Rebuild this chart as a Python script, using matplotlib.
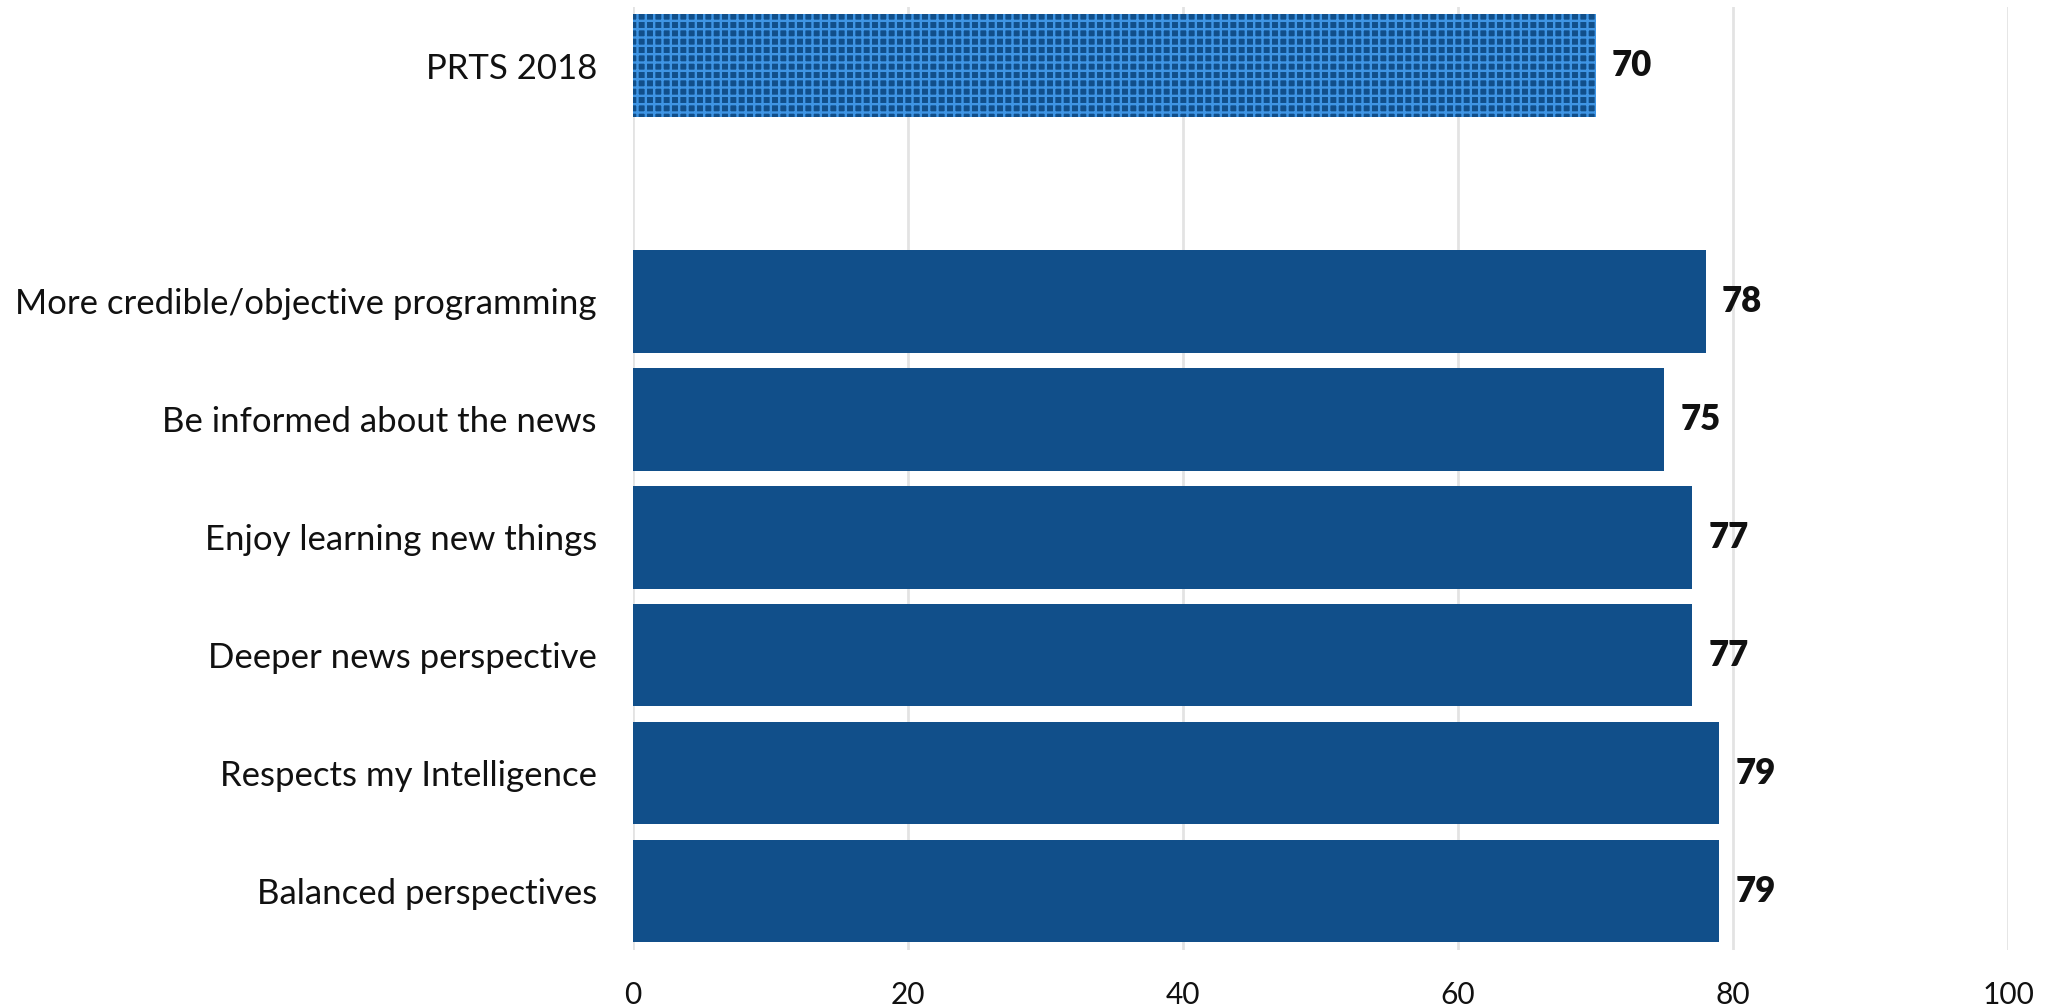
import matplotlib
matplotlib.use("Agg")
import matplotlib.pyplot as plt

# Survey results, bottom to top; None marks the spacer slot between groups
categories = [
    "Balanced perspectives",
    "Respects my Intelligence",
    "Deeper news perspective",
    "Enjoy learning new things",
    "Be informed about the news",
    "More credible/objective programming",
    "",
    "PRTS 2018",
]
values = [79, 79, 77, 77, 75, 78, None, 70]
benchmark = "PRTS 2018"
xticks = [0, 20, 40, 60, 80, 100]

DARK = "#114f8a"
LIGHT = "#3f95e4"

plt.rcParams["font.family"] = ["Lato", "DejaVu Sans"]
plt.rcParams["hatch.linewidth"] = 1.7
plt.rcParams["hatch.color"] = LIGHT

fig = plt.figure(figsize=(20.52, 10.06), dpi=100)
ax = fig.add_axes([0.3085, 0.0557, 0.9786 - 0.3085, 0.9935 - 0.0557])

for i, (cat, val) in enumerate(zip(categories, values)):
    if val is None:
        continue
    if cat == benchmark:
        ax.barh(i, val, height=0.87, color=DARK, hatch="++", edgecolor=LIGHT,
                linewidth=0, zorder=2)
    else:
        ax.barh(i, val, height=0.87, color=DARK, linewidth=0, zorder=2)
    ax.text(val + 1.2, i, f"{val}", va="center", ha="left",
            fontsize=25, fontweight="heavy", color="#111111")

ax.set_xlim(0, 100)
ax.set_ylim(-0.5, len(categories) - 0.5)
ax.set_yticks(range(len(categories)))
ax.set_yticklabels(categories, fontsize=25, color="#111111")
ax.set_xticks(xticks)
ax.set_xticklabels([str(t) for t in xticks], fontsize=21.5, color="#111111")
ax.tick_params(axis="both", length=0)
ax.tick_params(axis="y", pad=26)
ax.tick_params(axis="x", pad=22)
ax.xaxis.grid(True, color="#e3e3e3", linewidth=2, zorder=0)
ax.set_axisbelow(True)
for s in ax.spines.values():
    s.set_visible(False)

fig.savefig("out.png", dpi=100, facecolor="white")
